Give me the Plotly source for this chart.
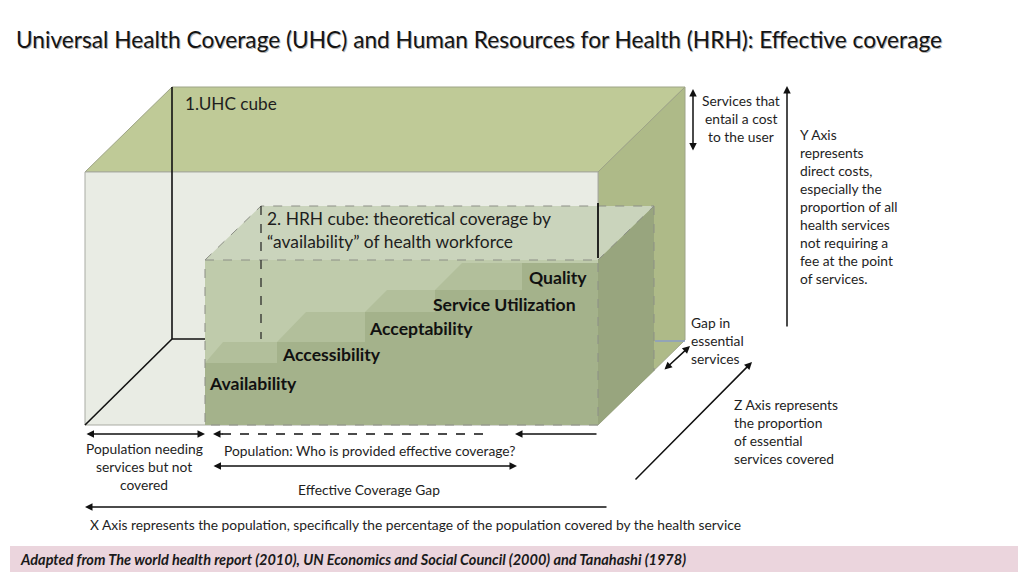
import plotly.graph_objects as go

# ---------------- text content ----------------
TITLE = "Universal Health Coverage (UHC) and Human Resources for Health (HRH): Effective coverage"
UHC_LABEL = "1.UHC cube"
HRH_LABEL = ["2. HRH cube: theoretical coverage by", "\u201cavailability\u201d of health workforce"]
STEP_LABELS = ["Availability", "Accessibility", "Acceptability", "Service Utilization", "Quality"]
COST_LINES = ["Services that", "entail a cost", "to the user"]
Y_AXIS_LINES = ["Y Axis", "represents", "direct costs,", "especially the", "proportion of all",
                "health services", "not requiring a", "fee at the point", "of services."]
GAP_LINES = ["Gap in", "essential", "services"]
Z_AXIS_LINES = ["Z Axis represents", "the proportion", "of essential", "services covered"]
POP_NEED_LINES = ["Population needing", "services but not", "covered"]
POP_WHO = "Population: Who is provided effective coverage?"
EFF_GAP = "Effective Coverage Gap"
X_AXIS_TEXT = "X Axis represents the population, specifically the percentage of the population covered by the health service"
FOOTER = "Adapted from The world health report (2010), UN Economics and Social Council (2000) and Tanahashi (1978)"

# ---------------- diagram geometry (pixel space) ----------------
UHC_FRONT = dict(x0=85, x1=598, y0=172, y1=425)
UHC_BACK_DX, UHC_BACK_DY = 87, -85
HRH_FRONT = dict(x0=205, x1=598, y0=260, y1=425)
HRH_BACK_DX, HRH_BACK_DY = 56, -54
STEP_X = [205, 277, 365, 435, 522, 598]
STEP_Y = [363, 342, 312, 290, 263]
STEP_SLANT = [18, 29, 22, 27]

FONT = "Lato"
TXT = "#1e1e1e"
BODY = 13.8

fig = go.Figure()


def poly(xs, ys, fill, line_color=None, width=1, dash=None):
    fig.add_trace(go.Scatter(
        x=list(xs) + [xs[0]], y=list(ys) + [ys[0]], mode="lines", fill="toself",
        fillcolor=fill, hoverinfo="skip", showlegend=False,
        line=dict(color=line_color if line_color else fill, width=width if line_color else 0, dash=dash)))


def seg(xs, ys, color, width=1.3, dash=None):
    fig.add_trace(go.Scatter(x=xs, y=ys, mode="lines", hoverinfo="skip", showlegend=False,
                             line=dict(color=color, width=width, dash=dash)))


f = UHC_FRONT
bx, by = UHC_BACK_DX, UHC_BACK_DY
# outer cube: top and right faces
poly([f["x0"], f["x0"] + bx, f["x1"] + bx, f["x1"]], [f["y0"], f["y0"] + by, f["y0"] + by, f["y0"]],
     "#bfca97", "#9ea487", 1)
poly([f["x1"], f["x1"] + bx, f["x1"] + bx, f["x1"]], [f["y0"], f["y0"] + by, f["y1"] + by, f["y1"]],
     "#aeba88", "#9ea487", 1)
# front face
poly([f["x0"], f["x1"], f["x1"], f["x0"]], [f["y0"], f["y0"], f["y1"], f["y1"]], "#e9ece4", "#a9aba3", 1)
# back edges
seg([f["x0"] + bx, f["x0"] + bx], [f["y0"] + by, f["y1"] + by - 1], "#111111", 1.6)
seg([f["x0"] + bx, 276], [f["y1"] + by - 1, f["y1"] + by - 1], "#111111", 1.6)
seg([f["x0"] + bx, f["x0"]], [f["y1"] + by - 1, f["y1"]], "#111111", 1.6)
# blue bottom back edge
seg([655, f["x1"] + bx], [f["y1"] + by + 1, f["y1"] + by + 1], "#8a9cc6", 1.5)

h = HRH_FRONT
hx, hy = HRH_BACK_DX, HRH_BACK_DY
# HRH top face
poly([h["x0"], h["x0"] + hx, h["x1"] + hx, h["x1"]], [h["y0"], h["y0"] + hy, h["y0"] + hy, h["y0"]],
     "#cad4bc")
# HRH right face
poly([h["x1"], h["x1"] + hx, h["x1"] + hx, h["x1"]], [h["y0"], h["y0"] + hy, h["y1"] + hy, h["y1"]],
     "#98a57e")
# HRH front face (upper, light)
poly([h["x0"], h["x1"], h["x1"], h["x0"]], [h["y0"], h["y0"], h["y1"], h["y1"]], "#bfcbab")
# staircase: step fronts (dark)
sx, sy = [h["x0"]], [h["y1"]]
for i in range(len(STEP_Y)):
    sx += [STEP_X[i], STEP_X[i + 1]]
    sy += [STEP_Y[i], STEP_Y[i]]
sx += [h["x1"]]
sy += [h["y1"]]
poly(sx, sy, "#a4b28b")
# step tops (medium)
for i in range(len(STEP_SLANT)):
    poly([STEP_X[i], STEP_X[i] + STEP_SLANT[i], STEP_X[i + 1], STEP_X[i + 1]],
         [STEP_Y[i], STEP_Y[i + 1], STEP_Y[i + 1], STEP_Y[i]], "#b2bf9b")

# HRH dashed outline
DG = "#8c8f86"
seg([h["x0"], h["x1"], h["x1"], h["x0"], h["x0"]], [h["y0"], h["y0"], h["y1"], h["y1"], h["y0"]], DG, 1, "dash")
seg([h["x0"], h["x0"] + hx, h["x1"] + hx, h["x1"]], [h["y0"], h["y0"] + hy, h["y0"] + hy, h["y0"]], DG, 1, "dash")
seg([h["x1"] + hx, h["x1"] + hx], [h["y0"] + hy, h["y1"] + hy], DG, 1, "dash")
seg([h["x0"] + hx, h["x0"] + hx], [h["y0"] + hy, f["y1"] + by - 1], "#222222", 1.2, "dash")
# black accent on the UHC front right edge
seg([f["x1"], f["x1"]], [203, 258], "#111111", 1.8)

# bottom dashed population arrow shaft
seg([222, 487], [434, 434], "#111111", 1.6, "dash")

# ---------------- arrows ----------------
ARW = dict(showarrow=True, text="", arrowhead=2, arrowsize=1, arrowwidth=1.5, arrowcolor="#111111",
           xref="x", yref="y", axref="x", ayref="y", standoff=0, startstandoff=0)
arrows = [
    dict(x=693, y=89, ax=693, ay=152, arrowside="end+start"),
    dict(x=787, y=86, ax=787, ay=328),
    dict(x=690, y=346, ax=663, ay=371, arrowside="end+start"),
    dict(x=752, y=362, ax=634, ay=481),
    dict(x=205, y=434, ax=85, ay=434, arrowside="end+start"),
    dict(x=213, y=434, ax=224, ay=434),
    dict(x=515, y=434, ax=598, ay=434),
    dict(x=517, y=466, ax=212, ay=466, arrowside="end+start"),
    dict(x=85, y=507, ax=608, ay=507),
]
for a in arrows:
    fig.add_annotation(**ARW, **a)


# ---------------- text ----------------
def txt(x, y, s, size=BODY, anchor="left", bold=False, italic=False, color=TXT, family=FONT):
    if bold:
        s = "<b>" + s + "</b>"
    if italic:
        s = "<i>" + s + "</i>"
    fig.add_annotation(x=x, y=y, text=s, showarrow=False, xref="x", yref="y", xanchor=anchor,
                       yanchor="middle", font=dict(family=family, size=size, color=color))


# title with a faint shadow, as in the slide
txt(15.2, 40.2, TITLE, size=22.7, color="#b5b5b5")
txt(14, 39, TITLE, size=22.7, color="#141414")
txt(183, 103, UHC_LABEL, size=17.2)
for i, s in enumerate(HRH_LABEL):
    txt(265, 218 + i * 23, s, size=17.4)

step_pos = [(207, 383, "left"), (280, 354, "left"), (367, 328, "left"), (578, 304, "right"), (589, 277, "right")]
for (x, y, an), s in zip(step_pos, STEP_LABELS):
    txt(x, y, s, size=17.6, anchor=an, bold=True, color="#111111")

for i, s in enumerate(COST_LINES):
    txt(741, 100 + i * 18, s, anchor="center")
for i, s in enumerate(Y_AXIS_LINES):
    txt(798, 134 + i * 18, s)
for i, s in enumerate(GAP_LINES):
    txt(689, 322 + i * 18, s)
for i, s in enumerate(Z_AXIS_LINES):
    txt(732, 404 + i * 18, s)
for i, s in enumerate(POP_NEED_LINES):
    txt(144, 448 + i * 18, s, anchor="center")
txt(222, 450, POP_WHO)
txt(369, 489, EFF_GAP, anchor="center")
txt(88, 524, X_AXIS_TEXT)

# footer band
fig.add_shape(type="rect", xref="x", yref="y", x0=10, x1=1018, y0=546, y1=572,
              fillcolor="#ebd5dd", line=dict(width=0), layer="below")
txt(18, 559, FOOTER, size=14.5, bold=True, italic=True, color="#1a1a1a")

fig.update_layout(
    width=1024, height=576, margin=dict(l=0, r=0, t=0, b=0),
    paper_bgcolor="white", plot_bgcolor="white", showlegend=False,
    xaxis=dict(range=[0, 1024], visible=False, fixedrange=True),
    yaxis=dict(range=[576, 0], visible=False, fixedrange=True),
)
fig.write_html("out.html", config={"displayModeBar": False},
               post_script="document.body.style.margin='0';document.body.style.padding='0';"
                           "document.body.style.overflow='hidden';")
